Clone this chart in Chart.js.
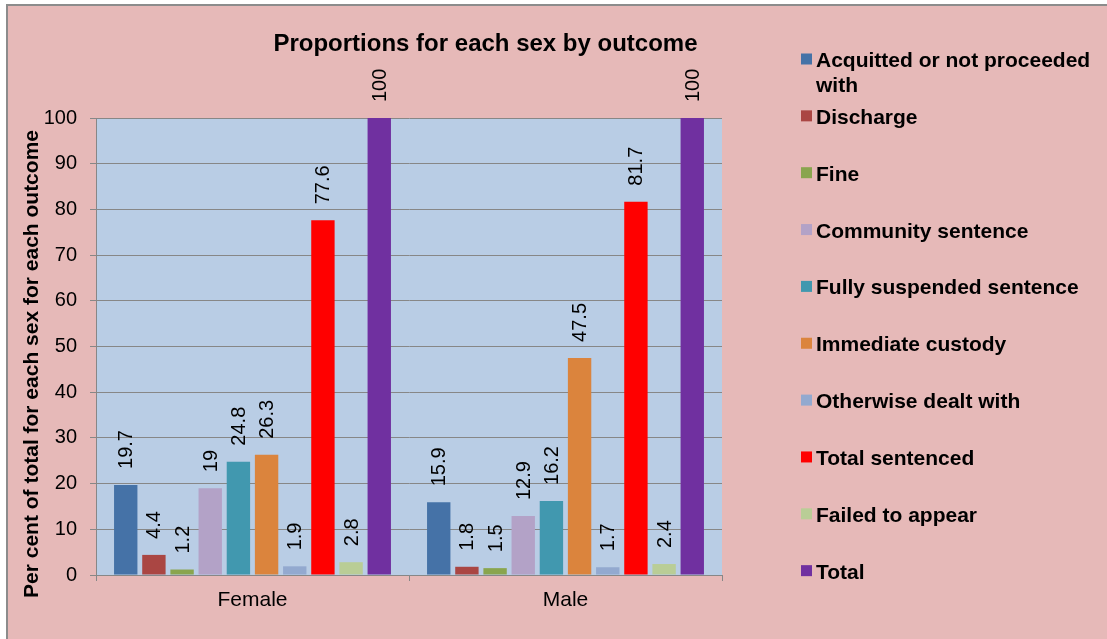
<!DOCTYPE html>
<html>
<head>
<meta charset="utf-8">
<script src="https://cdn.jsdelivr.net/npm/chart.js@4.4.1/dist/chart.umd.min.js"></script>
<style>
  html, body { margin: 0; padding: 0; background: #ffffff; }
  #wrap { width: 1107px; height: 639px; }
  canvas { display: block; }
</style>
</head>
<body>
<div id="wrap"><canvas id="c" width="1107" height="639"></canvas></div>
<script>
// ---- Data ----
const chartTitle = 'Proportions for each sex by outcome';
const yAxisTitle = 'Per cent of total for each sex for each outcome';
const categories = ['Female', 'Male'];
const outcomes = [
  'Acquitted or not proceeded with',
  'Discharge',
  'Fine',
  'Community sentence',
  'Fully suspended sentence',
  'Immediate custody',
  'Otherwise dealt with',
  'Total sentenced',
  'Failed to appear',
  'Total'
];
const femaleValues = [19.7, 4.4, 1.2, 19, 24.8, 26.3, 1.9, 77.6, 2.8, 100];
const maleValues   = [15.9, 1.8, 1.5, 12.9, 16.2, 47.5, 1.7, 81.7, 2.4, 100];
const yTicks = [0, 10, 20, 30, 40, 50, 60, 70, 80, 90, 100];

// ---- Styles ----
const colors = ['#4572A7', '#AA4643', '#89A54E', '#B3A2C7', '#4198AF',
                '#DB843D', '#93A9CF', '#FF0000', '#B9CD96', '#7030A0'];
const FONT = "'Liberation Sans', Arial, sans-serif";
const W = 1107, H = 639;
const GRID = '#878787';

const datasets = outcomes.map((name, i) => ({
  label: name,
  data: [femaleValues[i], maleValues[i]],
  backgroundColor: colors[i],
  borderWidth: 0,
  categoryPercentage: 0.9,
  barPercentage: 0.83
}));

const decor = {
  id: 'decor',
  beforeDraw(chart) {
    const c = chart.ctx, a = chart.chartArea;
    c.save();
    c.fillStyle = '#ffffff';
    c.fillRect(0, 0, W, H);
    c.fillStyle = '#E6B9B8';
    c.fillRect(7, 5, W - 7, H - 5);
    c.strokeStyle = '#8c8c8c';
    c.lineWidth = 2;
    c.beginPath();
    c.moveTo(7, H); c.lineTo(7, 5); c.lineTo(W, 5);
    c.stroke();
    c.fillStyle = '#B9CDE5';
    c.fillRect(a.left, a.top, a.right - a.left, a.bottom - a.top);
    c.restore();
  },
  afterDatasetsDraw(chart) {
    const c = chart.ctx;
    c.save();
    c.font = '20px ' + FONT;
    c.fillStyle = '#000000';
    c.textAlign = 'left';
    c.textBaseline = 'middle';
    chart.data.datasets.forEach((ds, di) => {
      const meta = chart.getDatasetMeta(di);
      meta.data.forEach((el, i) => {
        c.save();
        c.translate(el.x + 1, el.y - 16);
        c.rotate(-Math.PI / 2);
        c.fillText(String(ds.data[i]), 0, 0);
        c.restore();
      });
    });
    c.restore();
  },
  afterDraw(chart) {
    const c = chart.ctx;
    c.save();
    c.fillStyle = '#000000';
    // title
    c.font = 'bold 24px ' + FONT;
    c.textAlign = 'center';
    c.textBaseline = 'alphabetic';
    c.fillText(chartTitle, 485.5, 51);
    // y axis title
    c.save();
    c.font = 'bold 21px ' + FONT;
    c.translate(37.5, 364);
    c.rotate(-Math.PI / 2);
    c.fillText(yAxisTitle, 0, 0);
    c.restore();
    // legend
    c.font = 'bold 21px ' + FONT;
    c.textAlign = 'left';
    const maxW = W - 816 - 6;
    chart.data.datasets.forEach((ds, i) => {
      const cy = 59 + i * 56.85;
      c.fillStyle = ds.backgroundColor;
      c.fillRect(801, cy - 5.5, 11, 11);
      c.fillStyle = '#000000';
      // wrap text
      const words = ds.label.split(' ');
      const lines = [];
      let line = '';
      words.forEach(w => {
        const t = line ? line + ' ' + w : w;
        if (c.measureText(t).width > maxW && line) { lines.push(line); line = w; }
        else line = t;
      });
      if (line) lines.push(line);
      lines.forEach((l, k) => c.fillText(l, 816, cy + 8 + k * 25));
    });
    c.restore();
  }
};

new Chart(document.getElementById('c'), {
  type: 'bar',
  data: { labels: categories, datasets },
  plugins: [decor],
  options: {
    responsive: false,
    animation: false,
    devicePixelRatio: 1,
    layout: { padding: { top: 118, right: 385, bottom: 0, left: 0 } },
    plugins: { legend: { display: false }, title: { display: false }, tooltip: { enabled: false } },
    scales: {
      x: {
        offset: true,
        grid: { offset: true, drawOnChartArea: false, drawTicks: true, tickLength: 6, color: GRID },
        border: { color: GRID },
        ticks: { font: { family: FONT, size: 21 }, color: '#000000', padding: 7, maxRotation: 0 },
        afterFit(scale) { scale.height = 64; }
      },
      y: {
        min: 0, max: 100,
        afterBuildTicks(scale) { scale.ticks = yTicks.map(v => ({ value: v })); },
        grid: { color: GRID, tickLength: 6, drawTicks: true },
        border: { color: GRID },
        ticks: { font: { family: FONT, size: 20 }, color: '#000000', padding: 13 },
        afterFit(scale) { scale.width = 96; }
      }
    }
  }
});
</script>
</body>
</html>
